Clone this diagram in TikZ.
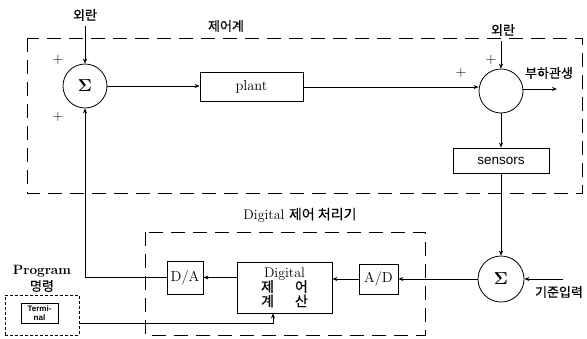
\documentclass[tikz,border=0pt]{standalone}
\usepackage{fontspec}
\newfontfamily\kr{Noto Sans CJK KR}[FakeBold=0.3]
\newfontfamily\hv{Liberation Sans}
\usetikzlibrary{arrows.meta}
\begin{document}
\begin{tikzpicture}[x=1pt,y=-1pt,
  >={Stealth[length=5pt,width=4pt]},
  every path/.style={line width=0.8pt},
  blk/.style={draw, line width=0.8pt, inner sep=0pt, font=\fontsize{14.5}{16}\selectfont},
  sumnode/.style={draw, circle, line width=0.8pt, minimum size=44pt, inner sep=0pt, font=\boldmath\fontsize{19}{19}\selectfont},
  dbox/.style={draw, line width=0.8pt, dash pattern=on 14pt off 8pt},
  sbox/.style={draw, line width=0.8pt, dash pattern=on 3pt off 2pt},
  kt/.style={font=\kr\fontsize{13}{14}\selectfont, inner sep=0pt},
  plus/.style={font=\fontsize{15}{15}\selectfont, inner sep=0pt},
  ]
\useasboundingbox (0,0) rectangle (587,338);

% frames
\draw[dbox] (27,38) rectangle (582,193);
\draw[dbox] (145,232) rectangle (425,335);

% nodes
\node[sumnode] (s1) at (85,86) {$\Sigma$};
\node[blk, minimum width=103pt, minimum height=29pt] (plant) at (251.5,87) {plant};
\node[sumnode] (s2) at (501,91) {};
\node[blk, minimum width=96pt, minimum height=25pt, font=\hv\fontsize{13.5}{15}\selectfont] (sensors) at (501,160.5) {sensors};
\node[sumnode, minimum size=46pt] (s3) at (501,279) {$\Sigma$};
\node[blk, minimum width=39pt, minimum height=30pt] (ad) at (378.5,279) {A/D};
\node[blk, minimum width=95pt, minimum height=51pt, align=center, font=\fontsize{14}{15.5}\selectfont] (dig) at (284.5,287.5)
  {Digital\\[-1pt]{\kr 제\hspace{1.5em}어}\\[-1pt]{\kr 계\hspace{1.5em}산}};
\node[blk, minimum width=36pt, minimum height=33pt] (da) at (185,277.5) {D/A};
\node[sbox, minimum width=74pt, minimum height=40pt] (term) at (42,315) {};
\node[blk, minimum width=37pt, minimum height=20pt, align=center, font=\hv\bfseries\fontsize{8}{9}\selectfont] (termin) at (39.5,313) {Termi-\\nal};

% labels
\node[kt] (d1) at (85,15) {외란};
\node[kt] (d2) at (503,30) {외란};
\node[kt] (ctl) at (226,26) {제어계};
\node[kt] (outl) at (549,73) {부하관생};
\node[kt] (refl) at (559,292) {기준입력};
\node[font=\fontsize{14}{15}\selectfont, inner sep=0pt] (dgl) at (300,215) {Digital {\kr 제어 처리기}};
\node[font=\bfseries\fontsize{13.5}{15}\selectfont, inner sep=0pt] (prog) at (42,271) {Program};
\node[kt] (cmd) at (42,286) {명령};
\node[plus] (p1) at (58,60) {+};
\node[plus] (p2) at (58,117) {+};
\node[plus] (p3) at (461,73) {+};
\node[plus] (p4) at (491,60) {+};

% coordinates
\coordinate (d1e) at (85,26);
\coordinate (d2e) at (501,41);
\coordinate (oute) at (557,89);
\coordinate (refs) at (563,279);
\coordinate (tp) at (79,323);

% connectors
\draw[->] (d1e) -- (s1.north);
\draw[->] (s1.east) -- (plant.west |- s1.east);
\draw[->] (plant.east) -- (s2.west |- plant.east);
\draw[->] (d2e) -- (s2.north);
\draw[->] (s2.east |- oute) -- (oute);
\draw[->] (s2.south) -- (sensors.north);
\draw[->] (sensors.south) -- (s3.north);
\draw[->] (refs) -- (s3.east);
\draw[->] (s3.west) -- (ad.east);
\draw[->] (ad.west) -- (dig.east |- ad.west);
\draw[->] (dig.west |- da.east) -- (da.east);
\draw[->] (da.west) -| (s1.south);
\draw[->] (tp) -| ([xshift=-11.5pt]dig.south);
\end{tikzpicture}
\end{document}
